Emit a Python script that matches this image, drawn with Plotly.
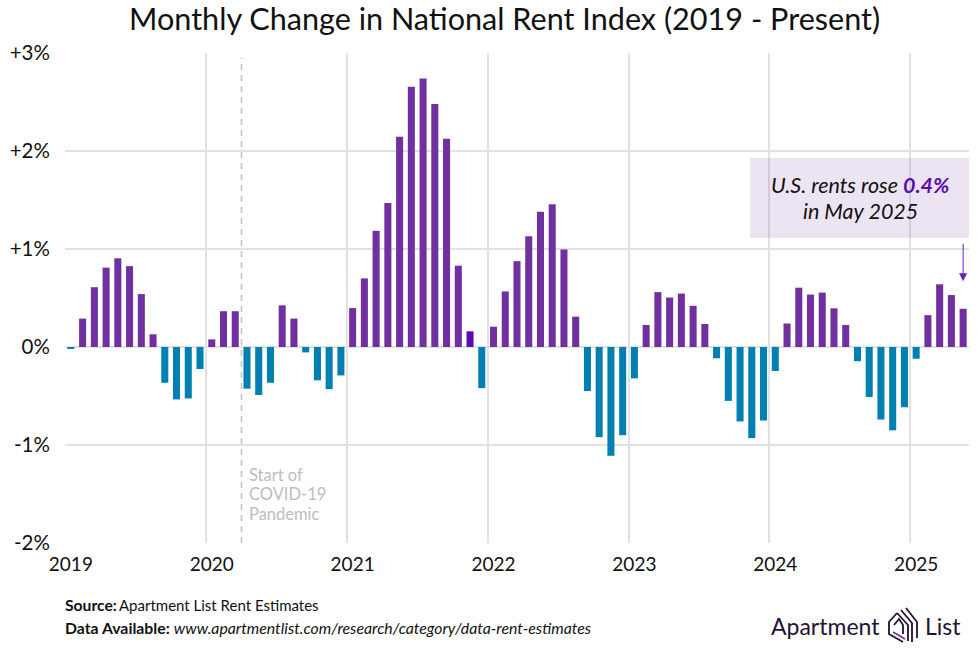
import plotly.graph_objects as go

# ---- data -------------------------------------------------------------
months = list(range(77))
monthly_change = [
    -0.02, 0.29, 0.61, 0.81, 0.905, 0.825, 0.54, 0.13, -0.365, -0.535, -0.525, -0.225,
    0.078, 0.365, 0.365, -0.425, -0.49, -0.365, 0.425, 0.29, -0.055, -0.34, -0.43, -0.29,
    0.397, 0.70, 1.185, 1.47, 2.145, 2.655, 2.74, 2.48, 2.125, 0.83, 0.16, -0.42,
    0.207, 0.567, 0.876, 1.13, 1.38, 1.457, 0.995, 0.31, -0.45, -0.92, -1.11, -0.90,
    -0.32, 0.225, 0.56, 0.505, 0.545, 0.42, 0.235, -0.115, -0.55, -0.76, -0.93, -0.75,
    -0.245, 0.24, 0.605, 0.535, 0.555, 0.395, 0.225, -0.145, -0.51, -0.74, -0.85, -0.615,
    -0.12, 0.325, 0.64, 0.53, 0.39,
]
year_labels = ["2019", "2020", "2021", "2022", "2023", "2024", "2025"]
y_ticks = [-2, -1, 0, 1, 2, 3]
y_labels = ["-2%", "-1%", "0%", "+1%", "+2%", "+3%"]
highlight_month = 34

# ---- styles -----------------------------------------------------------
PURPLE, TEAL, HILITE = "#7030A0", "#0080B0", "#5A0DB0"
GRID = "#E2E2E2"
FONT = "Lato"
colors = [HILITE if i == highlight_month else (PURPLE if v >= 0 else TEAL)
          for i, v in enumerate(monthly_change)]

L, R, T, B = 65, 969, 53, 543
W, H = 980, 667
px = lambda v: (v - L) / (R - L)
py = lambda v: (B - v) / (B - T)

fig = go.Figure(go.Bar(x=months, y=monthly_change, width=0.6,
                       marker=dict(color=colors, line=dict(width=0)), showlegend=False))

shapes = [
    dict(type="rect", xref="paper", yref="paper", x0=px(750), x1=px(969), y0=py(238), y1=py(158),
         fillcolor="rgba(112,48,160,0.13)", line=dict(width=0), layer="above"),
    dict(type="line", xref="paper", yref="paper", x0=px(241.5), x1=px(241.5), y0=0, y1=py(58),
         line=dict(color="#C4C4C4", width=1.6, dash="6px,5px"), layer="above"),
]

# logo mark, in page pixels
def stroke(pts, color="#1F1235", width=1.8):
    d = "M " + " L ".join(f"{px(a):.5f},{py(b):.5f}" for a, b in pts)
    shapes.append(dict(type="path", xref="paper", yref="paper", path=d,
                       line=dict(color=color, width=width)))

stroke([(897, 613), (889, 622), (889, 634), (903, 642)])
stroke([(893, 632), (905, 639)], color="#7030A0")
stroke([(897, 613), (908, 625), (908, 641)])
stroke([(901, 610), (912, 623), (912, 642)])
stroke([(906, 608), (917, 622), (917, 638)])
stroke([(894, 625), (899, 619), (903, 625), (903, 634)])

def text(x, y, s, size, color="#111111", anchor="left", family=FONT):
    dx = -2 if anchor == "left" else 0
    return dict(xref="paper", yref="paper", x=px(x + dx), y=py(y), text=s, showarrow=False,
                xanchor=anchor, yanchor="middle", align=anchor,
                font=dict(size=size, color=color, family=family))

annotations = [
    text(504, 18, "Monthly Change in National Rent Index (2019 - Present)", 30.6, anchor="center"),
    text(860, 185, "<i>U.S. rents rose <b><span style='color:#5A0DB0'>0.4%</span></b></i>", 21.5, anchor="center"),
    text(860, 211, "<i>in May 2025</i>", 21.5, anchor="center"),
    text(249, 474.5, "Start of", 16.5, "#BDBDBD"),
    text(249, 494, "COVID-19", 16.5, "#BDBDBD"),
    text(249, 513.5, "Pandemic", 16.5, "#BDBDBD"),
    text(65, 605, "<b>Source:</b>", 15.7),
    text(119, 605, "Apartment List Rent Estimates", 15),
    text(65, 627, "<b>Data Available:</b> <i>www.apartmentlist.com/research/category/data-rent-estimates</i>", 15.8),
    text(771, 626, "Apartment", 23, "#1F1235"),
    text(925, 626, "List", 23, "#1F1235"),
    dict(xref="x", yref="y", x=months[-1], y=0.67, ax=months[-1], ay=1.07, axref="x", ayref="y",
         text="", showarrow=True, arrowhead=2, arrowsize=1.6, arrowwidth=1, arrowcolor="#6A1FC0"),
]

fig.update_layout(
    width=W, height=H, paper_bgcolor="white", plot_bgcolor="white",
    margin=dict(l=L, r=W - R, t=T, b=H - B, autoexpand=False),
    font=dict(family=FONT, color="#111111"),
    bargap=0.4, shapes=shapes, annotations=annotations,
    xaxis=dict(range=[-0.5, 76.5], tickmode="array",
               tickvals=[12 * i for i in range(len(year_labels))], ticktext=year_labels,
               showgrid=False, zeroline=False, showline=False,
               ticks="outside", ticklen=4, tickcolor="rgba(0,0,0,0)",
               tickfont=dict(size=19, color="#111111"),
               minor=dict(tickmode="array", tickvals=[12 * i - 0.5 for i in range(len(year_labels))],
                          showgrid=True, gridcolor=GRID, gridwidth=1.5, ticks="")),
    yaxis=dict(range=[-2, 3], tickmode="array", tickvals=y_ticks, ticktext=y_labels,
               showgrid=True, gridcolor=GRID, gridwidth=1.5, zeroline=False, showline=False,
               ticks="outside", ticklen=10, tickcolor="rgba(0,0,0,0)",
               tickfont=dict(size=20.5, color="#111111")),
)

fig.write_html("out.html", config={"displayModeBar": False},
               post_script="document.body.style.margin='0';")
